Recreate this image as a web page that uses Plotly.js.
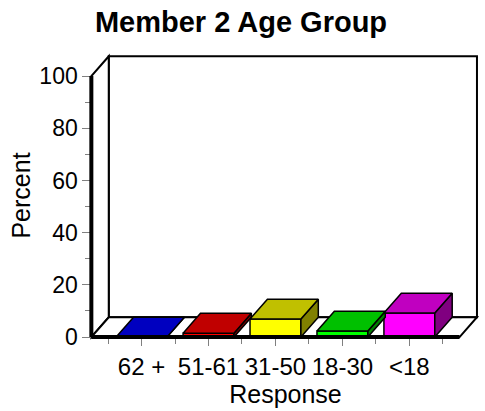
<!DOCTYPE html>
<html>
<head>
<meta charset="utf-8">
<script src="https://cdn.plot.ly/plotly-3.0.1.min.js"></script>
<style>html,body{margin:0;padding:0;background:#fff;}#chart{width:485px;height:411px;}</style>
</head>
<body>
<div id="chart"></div>
<script>
// ---- data ----
var categories = ["62 +", "51-61", "31-50", "18-30", "<18"];
var percents = [0, 1.5, 6.9, 2.3, 9.2];
var yTickValues = [0, 20, 40, 60, 80, 100];
var yMinorTickValues = [10, 30, 50, 70, 90];

// ---- style ----
var frontColors = ["#0000ff", "#ff0000", "#ffff00", "#00ff00", "#ff00ff"];
var topColors = ["#0000c0", "#c00000", "#c0c000", "#00c000", "#c000c0"];
var sideColors = ["#000080", "#800000", "#808000", "#008000", "#800080"];
var FONT = "Liberation Sans, Arial, Helvetica, sans-serif";
var BAR_W = 0.76;
var DX = 0.26, DY = 7.6;         // depth offset in data units
var X0 = -0.75, X1 = categories.length - 0.25; // floor extent
var XR = [-0.8, 5.1], YR = [-1.5, 110];

var xs = categories.map(function (c, i) { return i; });
var traces = [];

// front faces (bars)
traces.push({
  type: "bar", x: xs, y: percents, width: BAR_W,
  marker: { color: frontColors, line: { color: "#000", width: 1.5 } },
  hoverinfo: "skip", showlegend: false
});

// top and side faces computed from the data
xs.forEach(function (x, i) {
  var v = percents[i], l = x - BAR_W / 2, r = x + BAR_W / 2;
  traces.push({
    type: "scatter", mode: "lines", fill: "toself", fillcolor: sideColors[i],
    x: [r, r, r + DX, r + DX, r], y: [0, v, v + DY, DY, 0],
    line: { color: "#000", width: 1.5 }, hoverinfo: "skip", showlegend: false
  });
  traces.push({
    type: "scatter", mode: "lines", fill: "toself", fillcolor: topColors[i],
    x: [l, r, r + DX, l + DX, l], y: [v, v, v + DY, v + DY, v],
    line: { color: "#000", width: 1.5 }, hoverinfo: "skip", showlegend: false
  });
});

var shapes = [
  // back wall
  { type: "rect", layer: "below", xref: "x", yref: "y", x0: X0 + DX, x1: X1 + DX, y0: DY, y1: 100 + DY,
    line: { color: "#000", width: 2 }, fillcolor: "#fff" },
  // left wall
  { type: "path", layer: "below", xref: "x", yref: "y",
    path: "M" + X0 + "," + 0 + " L" + X0 + "," + 100 + " L" + (X0 + DX) + "," + (100 + DY) + " L" + (X0 + DX) + "," + DY + " Z",
    line: { color: "#000", width: 2 }, fillcolor: "#fff" },
  // floor
  { type: "path", layer: "below", xref: "x", yref: "y",
    path: "M" + X0 + ",0 L" + X1 + ",0 L" + (X1 + DX) + "," + DY + " L" + (X0 + DX) + "," + DY + " Z",
    line: { color: "#000", width: 2 }, fillcolor: "#fff" },
  // front axis lines (thick)
  { type: "line", layer: "above", xref: "x", yref: "y", x0: X0, x1: X0, y0: 0, y1: 100,
    line: { color: "#000", width: 4 } },
  { type: "line", layer: "above", xref: "x", yref: "y", x0: X0, x1: X1, y0: 0, y1: 0,
    line: { color: "#000", width: 4 } }
];

var layout = {
  width: 485, height: 411,
  margin: { l: 88, r: 2, t: 50, b: 70, pad: 0 },
  paper_bgcolor: "#fff", plot_bgcolor: "rgba(0,0,0,0)",
  showlegend: false,
  title: { text: "Member 2 Age Group", font: { family: FONT, size: 29, color: "#000", weight: "bold" },
    x: 241 / 485, xanchor: "center", xref: "container", y: 1 - 22 / 411, yanchor: "middle", yref: "container" },
  xaxis: {
    range: XR, anchor: "free", position: (0 - YR[0]) / (YR[1] - YR[0]),
    showgrid: false, zeroline: false, showline: false,
    tickmode: "array", tickvals: xs, ticktext: categories,
    ticks: "outside", ticklen: 8, tickwidth: 1, tickcolor: "#808080",
    minor: { tickvals: xs.map(function (x) { return x - 0.5; }).concat([xs.length - 0.5]),
      ticks: "outside", ticklen: 6, tickwidth: 1, tickcolor: "#808080", showgrid: false },
    tickfont: { family: FONT, size: 24, color: "#000" },
    title: { text: "Response", font: { family: FONT, size: 25, color: "#000" }, standoff: 2 },
    fixedrange: true
  },
  yaxis: {
    range: YR, anchor: "free", position: (X0 - XR[0]) / (XR[1] - XR[0]),
    showgrid: false, zeroline: false, showline: false,
    tickmode: "array", tickvals: yTickValues,
    ticks: "outside", ticklen: 9, tickwidth: 1, tickcolor: "#808080",
    minor: { tickvals: yMinorTickValues, ticks: "outside", ticklen: 6, tickwidth: 1, tickcolor: "#808080", showgrid: false },
    tickfont: { family: FONT, size: 23, color: "#000" },
    title: { text: "Percent", font: { family: FONT, size: 25, color: "#000" }, standoff: 0 },
    fixedrange: true
  },
  shapes: shapes
};

Plotly.newPlot("chart", traces, layout, { displayModeBar: false, staticPlot: true });
</script>
</body>
</html>
